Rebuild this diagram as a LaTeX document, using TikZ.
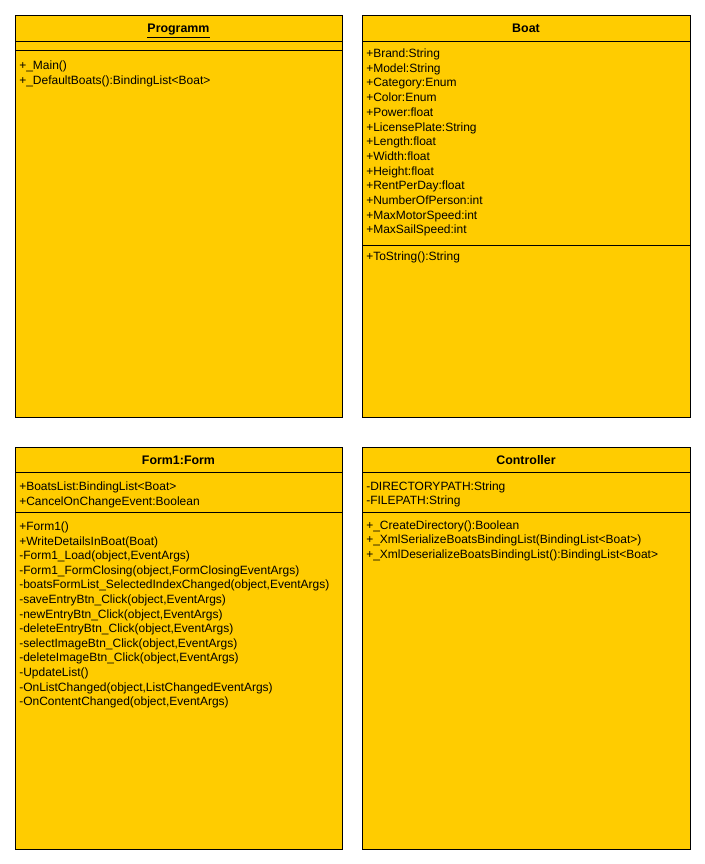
\documentclass[tikz,border=0pt]{standalone}
\usepackage{fontspec}
\setmainfont{Liberation Sans}
\definecolor{classfill}{HTML}{FFCC00}
\tikzset{
  classbox/.style={draw=black,fill=classfill,line width=0.7pt},
  divider/.style={draw=black,line width=0.7pt},
  classname/.style={font=\bfseries\fontsize{9.3pt}{11pt}\selectfont,inner sep=0pt,anchor=base},
  member/.style={font=\fontsize{9pt}{11pt}\selectfont,inner sep=0pt,anchor=base west},
}
\begin{document}
\begin{tikzpicture}[x=0.75pt,y=-0.75pt]
    \useasboundingbox (0,0) rectangle (704,864);

    % Programm
    \draw[classbox] (15,15) rectangle (342,417);
    \draw[divider] (15,41) -- (342,41);
    \draw[divider] (15,50) -- (342,50);
    \node[classname] (prog) at (178.5,32.5) {\underline{Programm}};
    \foreach \i/\txt in {0/+\_Main(),1/+\_DefaultBoats():BindingList<Boat>}{
        \node[member] (prog-m\i) at (19,69+\i*15) {\txt};
    }

    % Boat
    \draw[classbox] (362,15) rectangle (690,417);
    \draw[divider] (362,41) -- (690,41);
    \draw[divider] (362,245) -- (690,245);
    \node[classname] (boat) at (526,32.5) {Boat};
    \foreach \i/\txt in {
        0/+Brand:String,1/+Model:String,2/+Category:Enum,3/+Color:Enum,
        4/+Power:float,5/+LicensePlate:String,6/+Length:float,7/+Width:float,
        8/+Height:float,9/+RentPerDay:float,10/+NumberOfPerson:int,
        11/+MaxMotorSpeed:int,12/+MaxSailSpeed:int}{
        \node[member] (boat-a\i) at (366,57.5+\i*14.7) {\txt};
    }
    \node[member] (boat-m0) at (366,260) {+ToString():String};

    % Form1:Form
    \draw[classbox] (15,447) rectangle (342,849);
    \draw[divider] (15,472) -- (342,472);
    \draw[divider] (15,512) -- (342,512);
    \node[classname] (form) at (178.5,464.5) {Form1:Form};
    \foreach \i/\txt in {0/+BoatsList:BindingList<Boat>,1/+CancelOnChangeEvent:Boolean}{
        \node[member] (form-a\i) at (19,490.5+\i*14.7) {\txt};
    }
    \foreach \i/\txt in {
        0/+Form1(),
        1/+WriteDetailsInBoat(Boat),
        2/{-Form1\_Load(object,EventArgs)},
        3/{-Form1\_FormClosing(object,FormClosingEventArgs)},
        4/{-boatsFormList\_SelectedIndexChanged(object,EventArgs)},
        5/{-saveEntryBtn\_Click(object,EventArgs)},
        6/{-newEntryBtn\_Click(object,EventArgs)},
        7/{-deleteEntryBtn\_Click(object,EventArgs)},
        8/{-selectImageBtn\_Click(object,EventArgs)},
        9/{-deleteImageBtn\_Click(object,EventArgs)},
        10/-UpdateList(),
        11/{-OnListChanged(object,ListChangedEventArgs)},
        12/{-OnContentChanged(object,EventArgs)}}{
        \node[member] (form-m\i) at (19,530.5+\i*14.6) {\txt};
    }

    % Controller
    \draw[classbox] (362,447) rectangle (690,849);
    \draw[divider] (362,472) -- (690,472);
    \draw[divider] (362,512) -- (690,512);
    \node[classname] (ctrl) at (526,464.5) {Controller};
    \foreach \i/\txt in {0/-DIRECTORYPATH:String,1/-FILEPATH:String}{
        \node[member] (ctrl-a\i) at (366,490+\i*14.7) {\txt};
    }
    \foreach \i/\txt in {
        0/+\_CreateDirectory():Boolean,
        1/+\_XmlSerializeBoatsBindingList(BindingList<Boat>),
        2/+\_XmlDeserializeBoatsBindingList():BindingList<Boat>}{
        \node[member] (ctrl-m\i) at (366,529+\i*14.7) {\txt};
    }
\end{tikzpicture}
\end{document}
